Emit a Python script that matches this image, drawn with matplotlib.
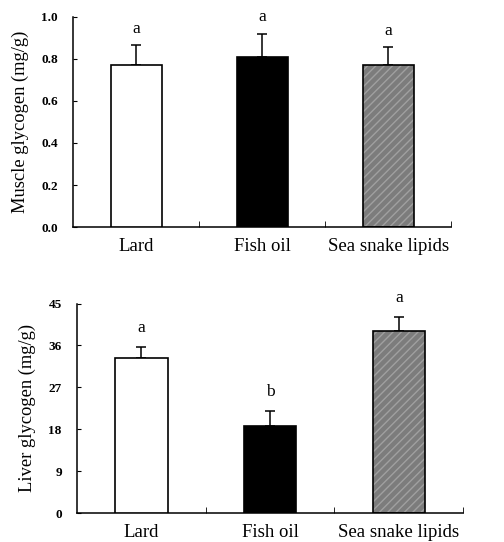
import matplotlib.pyplot as plt
import numpy as np

plt.rcParams['font.family'] = ['Liberation Serif', 'DejaVu Serif']

groups = ['Lard', 'Fish oil', 'Sea snake lipids']

muscle = [0.773, 0.811, 0.770]
muscle_err = [0.092, 0.109, 0.086]
muscle_sig = ['a', 'a', 'a']

liver = [33.3, 18.8, 39.2]
liver_err = [2.4, 3.1, 2.9]
liver_sig = ['a', 'b', 'a']

colors = ['white', 'black', '#7c7c7c']


def draw(ax, vals, errs, sig, ymax, step, fmt, ylabel, sig_pad):
    x = np.arange(len(groups))
    w = 0.405
    # gray bar gets light diagonal stripes, like the scanned print
    ax.bar(x[2], vals[2], w, color=colors[2], edgecolor='#a0a0a0', hatch='////', linewidth=0, zorder=2)
    ax.bar(x, vals, w, color=['white', 'black', 'none'], edgecolor='black', linewidth=1.2, zorder=3)
    ax.errorbar(x, vals, yerr=[[0] * 3, errs], fmt='none', ecolor='black', elinewidth=1.1,
                capsize=3.5, capthick=1.1, zorder=1)
    for xi, v, e, s in zip(x, vals, errs, sig):
        ax.text(xi, v + e + sig_pad, s, ha='center', va='bottom', fontsize=12.5, clip_on=False)
    ax.set_xlim(-0.5, 2.5)
    ax.set_ylim(0, ymax)
    ticks = np.arange(0, ymax + step / 2, step)
    ax.set_yticks(ticks)
    ax.set_yticklabels([fmt.format(t) for t in ticks], fontsize=9.5, fontweight='bold')
    ax.set_xticks([0.5, 1.5, 2.5], minor=True)
    ax.set_xticks(x)
    ax.set_xticklabels(groups, fontsize=13.5)
    ax.tick_params(axis='x', which='major', length=0, pad=8)
    ax.tick_params(axis='x', which='minor', direction='in', length=4)
    ax.tick_params(axis='y', direction='in', length=3, pad=11)
    ax.set_ylabel(ylabel, fontsize=13.3, labelpad=9)
    ax.spines['top'].set_visible(False)
    ax.spines['right'].set_visible(False)
    for sp in ['left', 'bottom']:
        ax.spines[sp].set_linewidth(1.1)


fig = plt.figure(figsize=(5.04, 5.42), dpi=100)
ax1 = fig.add_axes([0.145, 0.581, 0.75, 0.388])
ax2 = fig.add_axes([0.153, 0.053, 0.766, 0.387])

draw(ax1, muscle, muscle_err, muscle_sig, 1.0, 0.2, '{:.1f}', 'Muscle glycogen (mg/g)', 0.04)
draw(ax2, liver, liver_err, liver_sig, 45, 9, '{:.0f}', 'Liver glycogen (mg/g)', 2.4)

fig.savefig('out.png', dpi=100)
